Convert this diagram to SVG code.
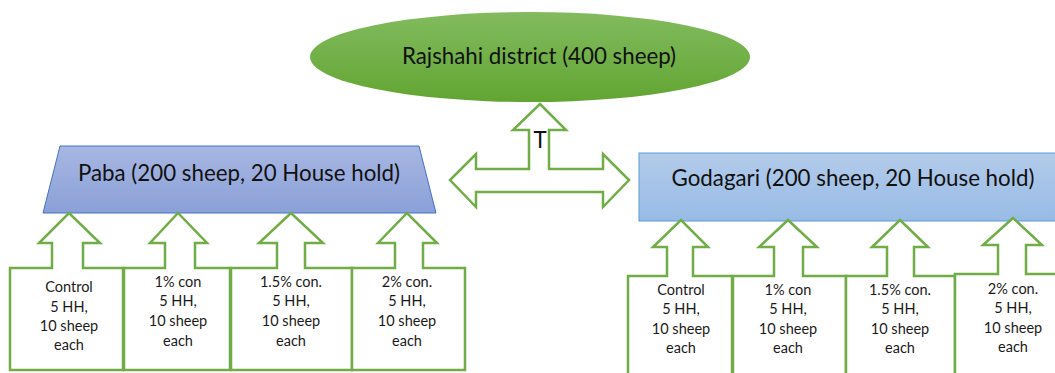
<svg xmlns="http://www.w3.org/2000/svg" width="1055" height="373" viewBox="0 0 1055 373">
<defs>
<linearGradient id="gGreen" x1="0" y1="0" x2="0" y2="1"><stop offset="0" stop-color="#82bb5e"/><stop offset="1" stop-color="#62a532"/></linearGradient>
<linearGradient id="gPaba" x1="0" y1="0" x2="0" y2="1"><stop offset="0" stop-color="#a8b7e2"/><stop offset="1" stop-color="#8aa0d8"/></linearGradient>
<linearGradient id="gGoda" x1="0" y1="0" x2="0" y2="1"><stop offset="0" stop-color="#b3cbea"/><stop offset="1" stop-color="#97bbe5"/></linearGradient>
<style>
.co{fill:#fff;stroke:#70ad47;stroke-width:2.5;stroke-linejoin:miter}
.st{font-family:Lato,"Open Sans",sans-serif;font-size:14.5px;fill:#1a1a1a;text-anchor:middle}
.big{font-family:Lato,"Open Sans",sans-serif;font-size:22.3px;fill:#111;text-anchor:middle}
</style>
</defs>
<rect width="1055" height="373" fill="#fff"/>
<g id="rajshahi">
<ellipse cx="530" cy="57" rx="220" ry="45" fill="url(#gGreen)"/>
<text class="big" x="539" y="64">Rajshahi district (400 sheep)</text>
</g>
<g id="connectors">
<path class="co" d="M540,104 L566,130 L549,130 L549,169 L603,169 L603,154 L629,180 L603,207 L603,192 L476,192 L476,207 L450,180 L476,154 L476,169 L529,169 L529,130 L513,130 Z"/>
<text class="big" x="540" y="148">T</text>
</g>
<g id="paba">
<path d="M60,146 L419,146 L436,213 L43,213 Z" fill="url(#gPaba)" stroke="#4472c4" stroke-width="1"/>
<text class="big" x="239" y="181">Paba (200 sheep, 20 House hold)</text>
</g>
<g id="godagari">
<rect x="639" y="153" width="420" height="68" fill="url(#gGoda)" stroke="#5b9bd5" stroke-width="1"/>
<text class="big" x="853" y="186">Godagari (200 sheep, 20 House hold)</text>
</g>
<g id="paba-control">
<path class="co" d="M10,268 L52,268 L52,243 L39,243 L69,213 L100,243 L83,243 L83,268 L123,268 L123,370 L10,370 Z"/>
<text class="st"><tspan x="69" y="292">Control</tspan><tspan x="69" y="311.5">5 HH,</tspan><tspan x="69" y="331">10 sheep</tspan><tspan x="69" y="350">each</tspan></text>
</g>
<g id="paba-1">
<path class="co" d="M124,268 L165,268 L165,243 L150,243 L178,213 L207,243 L195,243 L195,268 L230,268 L230,370 L124,370 Z"/>
<text class="st"><tspan x="178" y="287">1% con</tspan><tspan x="178" y="306">5 HH,</tspan><tspan x="178" y="326">10 sheep</tspan><tspan x="178" y="346">each</tspan></text>
</g>
<g id="paba-15">
<path class="co" d="M231,268 L277,268 L277,243 L259,243 L291,213 L323,243 L305,243 L305,268 L352,268 L352,370 L231,370 Z"/>
<text class="st"><tspan x="291" y="287">1.5% con.</tspan><tspan x="291" y="306">5 HH,</tspan><tspan x="291" y="326">10 sheep</tspan><tspan x="291" y="346">each</tspan></text>
</g>
<g id="paba-2">
<path class="co" d="M352,268 L395,268 L395,243 L378,243 L407,213 L437,243 L423,243 L423,268 L465,268 L465,370 L352,370 Z"/>
<text class="st"><tspan x="407" y="287">2% con.</tspan><tspan x="407" y="306">5 HH,</tspan><tspan x="407" y="326">10 sheep</tspan><tspan x="407" y="346">each</tspan></text>
</g>
<g id="goda-control">
<path class="co" d="M628,276 L667,276 L667,247 L653,247 L681,220 L708,247 L693,247 L693,276 L732,276 L732,380 L628,380 Z"/>
<text class="st"><tspan x="681" y="295">Control</tspan><tspan x="681" y="314">5 HH,</tspan><tspan x="681" y="334">10 sheep</tspan><tspan x="681" y="353">each</tspan></text>
</g>
<g id="goda-1">
<path class="co" d="M733,276 L774,276 L774,247 L759,247 L788,220 L817,247 L803,247 L803,276 L846,276 L846,380 L733,380 Z"/>
<text class="st"><tspan x="788" y="295">1% con</tspan><tspan x="788" y="314">5 HH,</tspan><tspan x="788" y="334">10 sheep</tspan><tspan x="788" y="353">each</tspan></text>
</g>
<g id="goda-15">
<path class="co" d="M846,276 L887,276 L887,247 L872,247 L900,220 L928,247 L914,247 L914,276 L955,276 L955,380 L846,380 Z"/>
<text class="st"><tspan x="900" y="295">1.5% con.</tspan><tspan x="900" y="314">5 HH,</tspan><tspan x="900" y="334">10 sheep</tspan><tspan x="900" y="353">each</tspan></text>
</g>
<g id="goda-2">
<path class="co" d="M955,274 L998,274 L998,245 L983,245 L1013,218 L1042,245 L1026,245 L1026,274 L1060,274 L1060,380 L955,380 Z"/>
<text class="st"><tspan x="1013" y="294">2% con.</tspan><tspan x="1013" y="313">5 HH,</tspan><tspan x="1013" y="333">10 sheep</tspan><tspan x="1013" y="352">each</tspan></text>
</g>
</svg>
